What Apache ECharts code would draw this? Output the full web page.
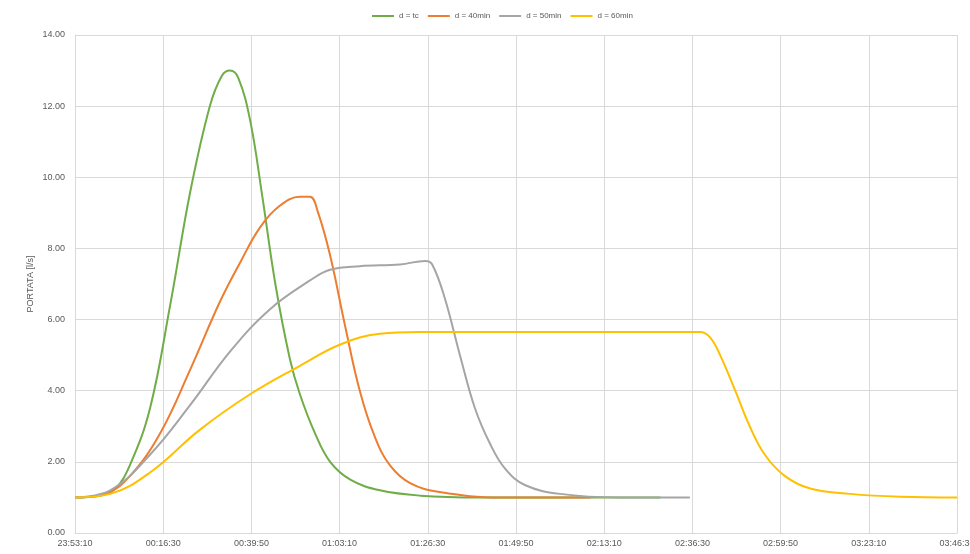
<!DOCTYPE html>
<html><head><meta charset="utf-8">
<script src="https://cdn.jsdelivr.net/npm/echarts@6/dist/echarts.min.js"></script>
<style>html,body{margin:0;padding:0;background:#fff}#c{width:970px;height:554px}</style>
</head><body><div id="c"></div>
<script>
// time axis: seconds elapsed since 23:53:10
const startClock = 23*3600 + 53*60 + 10;
const xTickStep = 1400;   // 23:20 between tick labels
const xMax = 14000;
const yTicks = [0, 2, 4, 6, 8, 10, 12, 14];
const seriesNames = ['d = tc', 'd = 40min', 'd = 50min', 'd = 60min'];

const dTc = [[0,1.0],[400,1.05],[640,1.25],[870,1.9],[1190,3.5],[1510,6.4],[1830,9.6],[2140,12.0],[2330,12.85],[2460,13.0],[2590,12.8],[2780,11.6],[2970,9.5],[3180,7.0],[3410,4.9],[3570,3.9],[3810,2.8],[4050,2.0],[4370,1.5],[4840,1.2],[5480,1.05],[6430,1.0],[9290,1.0]];
const d40 = [[0,1.0],[480,1.1],[870,1.6],[1350,2.8],[1830,4.6],[2300,6.5],[2620,7.6],[2940,8.6],[3250,9.2],[3570,9.45],[3730,9.45],[3860,9.0],[4050,7.8],[4290,5.8],[4520,4.0],[4760,2.7],[5000,1.9],[5320,1.4],[5790,1.15],[6750,1.0],[8180,1.0]];
const d50 = [[0,1.0],[560,1.2],[1190,2.2],[1830,3.6],[2460,5.1],[3100,6.3],[3730,7.1],[4050,7.4],[4520,7.5],[5160,7.55],[5560,7.65],[5670,7.55],[5870,6.6],[6110,5.0],[6350,3.5],[6590,2.5],[6830,1.8],[7140,1.35],[7700,1.1],[8650,1.0],[9760,1.0]];
const d60 = [[0,1.0],[560,1.1],[1190,1.7],[1980,2.9],[2780,3.9],[3570,4.7],[4210,5.3],[4840,5.6],[5480,5.65],[9920,5.65],[10080,5.5],[10240,5.0],[10480,4.0],[10710,3.0],[10950,2.2],[11270,1.6],[11670,1.25],[12300,1.1],[13100,1.02],[14000,1.0]];

function clock(v){
  let s = Math.round(startClock + v) % 86400;
  const h = Math.floor(s/3600), m = Math.floor((s%3600)/60), ss = s%60;
  const p = n => String(n).padStart(2,'0');
  return p(h)+':'+p(m)+':'+p(ss);
}
const colors = ['#70ad47','#ed7d31','#a5a5a5','#ffc000'];
const datas = [dTc, d40, d50, d60];
const chart = echarts.init(document.getElementById('c'));
chart.setOption({
  animation:false,
  color: colors,
  textStyle:{fontFamily:'Liberation Sans, Arial, sans-serif'},
  legend:{top:7, left:367, itemWidth:22, itemHeight:2, itemGap:9, icon:'rect',
    textStyle:{fontSize:8, color:'#595959'}, data: seriesNames},
  grid:{left:75, right:13, top:35, bottom:21, containLabel:false, outerBoundsMode:'none'},
  xAxis:{type:'value', min:0, max:xMax, interval:xTickStep,
    axisLine:{lineStyle:{color:'#d9d9d9'}}, axisTick:{show:false},
    axisLabel:{formatter:clock, fontSize:9, color:'#595959', margin:6},
    splitLine:{show:true, lineStyle:{color:'#d9d9d9'}}},
  yAxis:{type:'value', min:yTicks[0], max:yTicks[yTicks.length-1], interval:2,
    name:'PORTATA [l/s]', nameLocation:'middle', nameGap:40, nameMoveOverlap:false,
    nameTextStyle:{fontSize:9, color:'#595959'},
    axisLine:{show:true, lineStyle:{color:'#d9d9d9'}}, axisTick:{show:false},
    axisLabel:{formatter:v=>v.toFixed(2), fontSize:9, color:'#595959', margin:10},
    splitLine:{lineStyle:{color:'#d9d9d9'}}},
  series: seriesNames.map((n,i)=>({name:n, type:'line', data:datas[i], smooth:0.4, showSymbol:false,
    lineStyle:{width:2, color:colors[i]}}))
});
</script></body></html>
